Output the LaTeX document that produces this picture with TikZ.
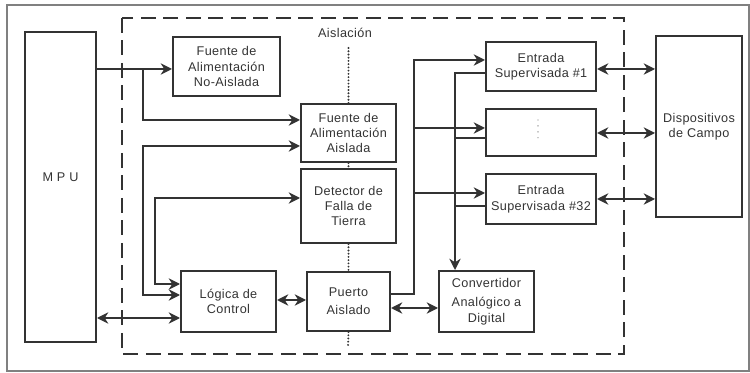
\documentclass[tikz,border=0pt]{standalone}
\usepackage{fontspec}
\setmainfont{Liberation Sans}[LetterSpace=3]
\usetikzlibrary{arrows.meta}

\definecolor{ink}{HTML}{333333}

\begin{document}
\begin{tikzpicture}[x=0.025cm,y=-0.025cm]

\tikzstyle{every node}=[font=\fontsize{9}{11}\selectfont,text=ink,align=center];
\tikzstyle{block}=[draw=ink,line width=1.4pt,shape=rectangle,inner sep=1pt];
\tikzstyle{link}=[draw=ink,line width=1.4pt,>={Stealth[length=8pt,width=8pt,inset=2.5pt]}];
\tikzstyle{sep}=[draw=ink,line width=1.5pt,line cap=round,dash pattern=on 0pt off 2.3pt];

\useasboundingbox (0,0) rectangle (750,373);

% Outer frame and the isolation barrier
\draw[gray,line width=0.8pt] (7,5) rectangle (749,371);
\draw[ink,line width=1.5pt,dash pattern=on 10.5pt off 5.5pt] (122,18) rectangle (624,354);

% Draw the blocks
\node[block,minimum width=1.775cm,minimum height=7.75cm] (mpu) at (60.5,187) {\raisebox{14pt}{M P U}};
\node[block,minimum width=2.675cm,minimum height=1.475cm] (fna) at (226.5,66.5) {Fuente de\\Alimentación\\No-Aislada};
\node[block,minimum width=2.375cm,minimum height=1.45cm] (fa) at (348.5,133) {Fuente de\\Alimentación\\Aislada};
\node[block,minimum width=2.375cm,minimum height=1.85cm] (det) at (348.5,206) {Detector de\\Falla de\\Tierra};
\node[block,minimum width=2.375cm,minimum height=1.525cm] (logic) at (228.5,301.5) {Lógica de\\Control};
\node[block,minimum width=2.075cm,minimum height=1.475cm] (puerto) at (348.5,301.5) {Puerto\\[2pt]Aislado};
\node[block,minimum width=2.375cm,minimum height=1.525cm] (adc) at (486.5,301.5) {Convertidor\\[3pt]Analógico a\\Digital};
\node[block,minimum width=2.75cm,minimum height=1.225cm] (e1) at (541,66.5) {Entrada\\Supervisada \#1};
\node[block,minimum width=2.75cm,minimum height=1.175cm] (emid) at (541,132.5) {};
\node[block,minimum width=2.75cm,minimum height=1.25cm] (e32) at (541,199) {Entrada\\Supervisada \#32};
\node[block,minimum width=2.15cm,minimum height=4.525cm] (campo) at (699,126.5) {Dispositivos\\de Campo};
\node (aisl) at (345,33) {Aislación};

% Isolation line through the middle column
\draw[sep] (fa.north |- 0,48) -- (fa.north);
\draw[sep] (fa.south) -- (det.north);
\draw[sep] (det.south) -- (puerto.north);
\draw[sep] (puerto.south) -- (348,348);
\draw[gray,line width=1pt,line cap=round,dash pattern=on 0pt off 4.2pt] (538,120) -- (538,139);

% Links from the MPU side
\draw[link,->] (mpu.east |- 0,69) -- (fna.west |- 0,69);
\draw[link,->] (143,69) |- (fa.west |- 0,120);
\draw[link,<->] (fa.west |- 0,146) -| (143,295) -- (logic.west |- 0,295);
\draw[link,<->] (det.west |- 0,198) -| (155,284) -- (logic.west |- 0,284);
\draw[link,<->] (mpu.east |- 0,318) -- (logic.west |- 0,318);
\draw[link,<->] (logic.east |- 0,300) -- (puerto.west |- 0,300);
\draw[link,<->] (puerto.east |- 0,308) -- (adc.west |- 0,308);

% Bus to the supervised inputs
\draw[link,->] (puerto.east |- 0,294) -| (414,60) -- (e1.west |- 0,60);
\draw[link,->] (414,128) -- (emid.west |- 0,128);
\draw[link,->] (414,193) -- (e32.west |- 0,193);
\draw[link,->] (e1.west |- 0,73) -| (adc.north -| 455,0);
\draw[link] (emid.west |- 0,138) -- (455,138);
\draw[link] (e32.west |- 0,206) -- (455,206);

% Field devices
\foreach \e/\y in {e1/69,emid/133,e32/199}
  \draw[link,<->] (\e.east |- 0,\y) -- (campo.west |- 0,\y);

\end{tikzpicture}
\end{document}
